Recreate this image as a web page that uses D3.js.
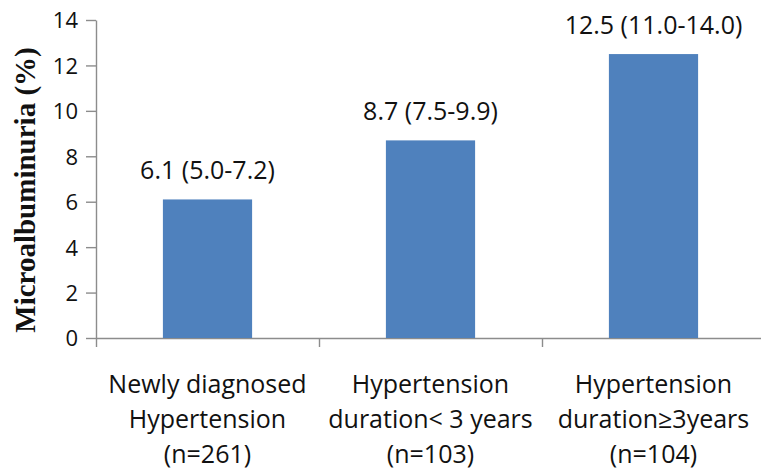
<!DOCTYPE html>
<html>
<head>
<meta charset="utf-8">
<title>Microalbuminuria</title>
<script src="https://d3js.org/d3.v7.min.js"></script>
<style>
  body { margin: 0; background: #fff; }
  svg { display: block; }
  .axis path, .axis line { stroke: #8c8c8c; stroke-width: 1.4; }
  .axis text { font-family: "Open Sans", sans-serif; font-size: 22px; fill: #111; }
</style>
</head>
<body>
<div id="chart"></div>
<script>
  // data
  let grupos = ['nuevo', 'menos3', 'mas3'];
  let etiquetas = [
    ['Newly diagnosed', 'Hypertension', '(n=261)'],
    ['Hypertension', 'duration< 3 years', '(n=103)'],
    ['Hypertension', 'duration\u22653years', '(n=104)']
  ];
  let valores = [6.1, 8.7, 12.5];
  let inferior = [5.0, 7.5, 11.0];
  let superior = [7.2, 9.9, 14.0];
  let ticks_y = [0, 2, 4, 6, 8, 10, 12, 14];

  let svgw = 761;
  let svgh = 474;
  let margen = {sup: 20, izq: 96, inf: 136};
  let ejeFin = 765; // axis runs past the right edge, as in the picture

  let misvg = d3.select('#chart')
    .append('svg')
    .attr('width', svgw)
    .attr('height', svgh);

  let escala_y = d3.scaleLinear()
    .domain([0, 14])
    .range([svgh - margen.inf, margen.sup]);

  let escala_x = d3.scaleBand()
    .domain(grupos)
    .range([margen.izq, ejeFin])
    .paddingInner(0.6)
    .paddingOuter(0.3);

  // tick marks sit on the category boundaries
  let limites = d3.scaleLinear()
    .domain([0, grupos.length])
    .range([margen.izq, ejeFin]);

  misvg.append('g')
    .attr('class', 'axis')
    .attr('transform', `translate(0, ${escala_y(0)})`)
    .call(d3.axisBottom(limites).tickValues(d3.range(grupos.length + 1)).tickFormat('').tickSize(9).tickSizeOuter(0));

  misvg.append('g')
    .attr('class', 'axis')
    .attr('transform', `translate(${margen.izq}, 0)`)
    .call(d3.axisLeft(escala_y).tickValues(ticks_y).tickSize(10).tickSizeOuter(0).tickPadding(8))
    .call(g => g.selectAll('text').attr('dy', '0.36em'));

  // bars
  misvg.append('g')
    .selectAll('rect')
    .data(valores)
    .join('rect')
    .attr('x', (d, i) => escala_x(grupos[i]))
    .attr('y', d => escala_y(d))
    .attr('width', escala_x.bandwidth())
    .attr('height', d => escala_y(0) - escala_y(d))
    .attr('fill', '#4f81bd');

  // value labels with CI
  misvg.append('g')
    .selectAll('text')
    .data(valores)
    .join('text')
    .attr('x', (d, i) => escala_x(grupos[i]) + escala_x.bandwidth() / 2)
    .attr('y', d => escala_y(d) - 20)
    .attr('text-anchor', 'middle')
    .style('font-family', '"Open Sans", sans-serif')
    .style('font-size', '25px')
    .attr('fill', '#111')
    .text((d, i) => `${d.toFixed(1)} (${inferior[i].toFixed(1)}-${superior[i].toFixed(1)})`);

  // category labels
  let cat = misvg.append('g')
    .selectAll('text')
    .data(etiquetas)
    .join('text')
    .attr('text-anchor', 'middle')
    .style('font-family', '"Open Sans", sans-serif')
    .style('font-size', '25px')
    .attr('fill', '#111');

  cat.selectAll('tspan')
    .data((d, i) => d.map(t => ({t: t, i: i})))
    .join('tspan')
    .attr('x', d => escala_x(grupos[d.i]) + escala_x.bandwidth() / 2)
    .attr('y', (d, j) => 393 + j * 35)
    .text(d => d.t);

  // y title
  misvg.append('text')
    .attr('transform', `translate(35, 190) rotate(-90)`)
    .attr('text-anchor', 'middle')
    .style('font-family', '"Liberation Serif", serif')
    .style('font-weight', 'bold')
    .style('font-size', '29px')
    .attr('fill', '#111')
    .text('Microalbuminuria (%)');
</script>
</body>
</html>
